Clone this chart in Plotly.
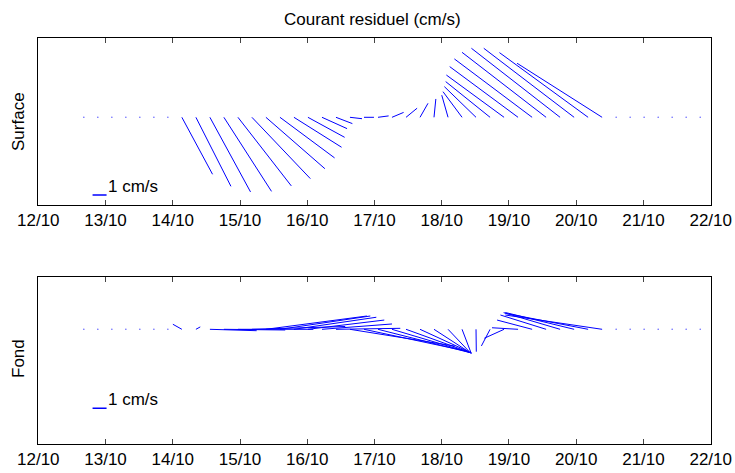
import plotly.graph_objects as go

# ---------------- data ----------------
# sample times, in days of October (every 5 hours)
times = [12.677, 12.885, 13.094, 13.302, 13.510, 13.719, 13.927, 14.135, 14.344,
         14.552, 14.760, 14.969, 15.177, 15.385, 15.594, 15.802, 16.010, 16.219,
         16.427, 16.635, 16.844, 17.052, 17.260, 17.469, 17.677, 17.885, 18.094,
         18.302, 18.510, 18.719, 18.927, 19.135, 19.344, 19.552, 19.760, 19.969,
         20.177, 20.385, 20.594, 20.802, 21.010, 21.219, 21.427, 21.635, 21.844]

tick_days = [12, 13, 14, 15, 16, 17, 18, 19, 20, 21, 22]
tick_labels = ["12/10", "13/10", "14/10", "15/10", "16/10", "17/10",
               "18/10", "19/10", "20/10", "21/10", "22/10"]

# residual current, surface (cm/s): east (u) and north (v) components
surface_u = [0, 0, 0, 0, 0, 0, 0,
             2.19, 2.50, 2.90, 3.40, 3.81, 4.17, 4.21, 3.90, 3.40, 2.62, 1.79,
             1.17, 0.86, 0.71, 0.76, 0.83, 0.79, 0.57, 0.13, -0.45, -1.36, -2.26,
             -3.17, -4.12, -4.88, -5.55, -6.00, -6.33, -6.45, -6.33, -6.07,
             0, 0, 0, 0, 0, 0, 0]
surface_v = [0, 0, 0, 0, 0, 0, 0,
             -4.07, -4.93, -5.33, -5.29, -4.90, -4.38, -3.67, -2.90, -2.14, -1.43,
             -0.81, -0.45, -0.10, 0.00, 0.10, 0.35, 0.65, 1.00, 1.31, 1.58, 1.83,
             2.19, 2.55, 3.02, 3.62, 4.17, 4.64, 4.93, 4.93, 4.62, 3.86,
             0, 0, 0, 0, 0, 0, 0]

# residual current, bottom (cm/s)
fond_u = [0, 0, 0, 0, 0, 0, 0,
          -0.64, 0.31, 3.34, 4.38, 5.38, 6.66, 7.21, 6.45, 5.88, 5.45, 5.00, 4.59,
          7.50, 7.45, 6.66, 5.66, 4.66, 3.52, 2.56, 1.60, 0.66, 0.02, -0.62, -1.41,
          -1.86, -2.50, -3.26, -4.03, -4.91, -5.91, -6.91,
          0, 0, 0, 0, 0, 0, 0]
fond_v = [0, 0, 0, 0, 0, 0, 0,
          0.36, 0.17, -0.10, -0.05, 0.00, 0.20, 0.95, 0.95, 0.86, 0.66, 0.38, 0.07,
          -1.20, -1.59, -1.69, -1.69, -1.69, -1.62, -1.66, -1.69, -1.73, -1.60,
          -1.19, -0.64, 0.11, 0.66, 1.02, 1.19, 1.20, 1.14, 1.02,
          0, 0, 0, 0, 0, 0, 0]

scale_speed = 1.0             # cm/s, reference vector
scale_time = 12.807           # position of the reference vector
scale_level = [-5.55, -5.64]  # vertical position of reference vector (surface, fond)

DT = 5.0 / 24.0               # days of x-axis per 1 cm/s (one sample spacing)

BLUE = "#0000ff"
FONT = "Liberation Sans, Arial, Helvetica, sans-serif"

W, H = 735, 473


def feather(t, u, v):
    xs, ys, zx, zy = [], [], [], []
    for ti, ui, vi in zip(t, u, v):
        if ui == 0 and vi == 0:
            zx.append(ti)
            zy.append(0)
        else:
            xs += [ti, ti + ui * DT, None]
            ys += [0, vi, None]
    return xs, ys, zx, zy


fig = go.Figure()

panels = [("x", "y", surface_u, surface_v, scale_level[0]),
          ("x2", "y2", fond_u, fond_v, scale_level[1])]

for xa, ya, u, v, lev in panels:
    xs, ys, zx, zy = feather(times, u, v)
    fig.add_trace(go.Scatter(x=xs, y=ys, mode="lines", xaxis=xa, yaxis=ya,
                             line=dict(color=BLUE, width=1), hoverinfo="skip",
                             showlegend=False))
    fig.add_trace(go.Scatter(x=zx, y=zy, mode="markers", xaxis=xa, yaxis=ya,
                             marker=dict(color=BLUE, size=1.6, opacity=0.6),
                             hoverinfo="skip", showlegend=False))
    # reference vector
    fig.add_trace(go.Scatter(x=[scale_time, scale_time + scale_speed * DT],
                             y=[lev, lev], mode="lines", xaxis=xa, yaxis=ya,
                             line=dict(color=BLUE, width=1.6), hoverinfo="skip",
                             showlegend=False))
    fig.add_annotation(x=scale_time + scale_speed * DT, y=lev + 0.6,
                       xref=xa, yref=ya, text="1 cm/s", showarrow=False,
                       xanchor="left", yanchor="middle", xshift=-1,
                       font=dict(family=FONT, size=17, color="black"))

# plot-area geometry (reference pixels)
left, right = 38.3, 710.7
top1, bot1, base1 = 37.5, 205.0, 117.3
top2, bot2, base2 = 276.7, 444.0, 329.3

xcommon = dict(range=[12, 22], tickmode="array", tickvals=tick_days,
               ticktext=tick_labels, ticks="inside", ticklen=5, tickwidth=1,
               tickcolor="#444444", showline=True, linecolor="black", linewidth=1,
               mirror="ticks", showgrid=False, zeroline=False,
               domain=[left / W, right / W], automargin=False,
               tickfont=dict(family=FONT, size=17, color="black"))
ycommon = dict(showline=True, linecolor="black", linewidth=1, mirror=True,
               showgrid=False, zeroline=False, showticklabels=False, ticks="",
               automargin=False)

fig.update_layout(
    width=W, height=H, autosize=False,
    margin=dict(l=0, r=0, t=0, b=0, pad=0),
    paper_bgcolor="white", plot_bgcolor="white",
    xaxis=dict(**xcommon, anchor="y"),
    yaxis=dict(**ycommon, anchor="x", domain=[1 - bot1 / H, 1 - top1 / H],
               range=[-(bot1 - base1) / 14, (base1 - top1) / 14]),
    xaxis2=dict(**xcommon, anchor="y2"),
    yaxis2=dict(**ycommon, anchor="x2", domain=[1 - bot2 / H, 1 - top2 / H],
                range=[-(bot2 - base2) / 14, (base2 - top2) / 14]),
)

fig.add_annotation(x=372 / W, y=1 - 19 / H, xref="paper", yref="paper",
                   text="Courant residuel (cm/s)", showarrow=False,
                   xanchor="center", yanchor="middle",
                   font=dict(family=FONT, size=17, color="black"))
fig.add_annotation(x=18 / W, y=1 - 122 / H, xref="paper", yref="paper",
                   text="Surface", showarrow=False, textangle=-90,
                   xanchor="center", yanchor="middle",
                   font=dict(family=FONT, size=17, color="black"))
fig.add_annotation(x=18 / W, y=1 - 359 / H, xref="paper", yref="paper",
                   text="Fond", showarrow=False, textangle=-90,
                   xanchor="center", yanchor="middle",
                   font=dict(family=FONT, size=17, color="black"))

fig.write_html("out.html",
               config={"displayModeBar": False, "staticPlot": True},
               post_script="document.body.style.margin='0';"
                           "document.documentElement.style.overflow='hidden';")
